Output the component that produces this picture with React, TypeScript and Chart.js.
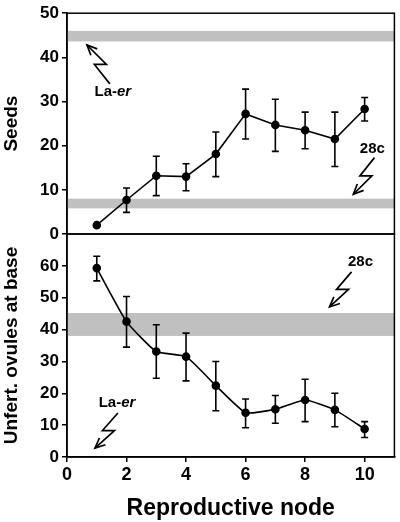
import React, { useEffect, useRef } from "react";
import { Chart, registerables } from "chart.js";
Chart.register(...registerables);

// ---- data ----
const nodes = [1, 2, 3, 4, 5, 6, 7, 8, 9, 10];
const seeds = [2.0, 7.7, 13.2, 13.0, 18.1, 27.2, 24.7, 23.5, 21.5, 28.3];
const seedsLow = [2.0, 4.9, 8.7, 9.8, 13.0, 21.5, 18.7, 19.3, 15.3, 25.6];
const seedsHigh = [2.0, 10.4, 17.6, 15.9, 23.1, 32.8, 30.5, 27.6, 27.6, 30.9];
const ovules = [59.3, 42.5, 33.1, 31.5, 22.4, 13.9, 15.0, 17.9, 14.8, 8.8];
const ovulesLow = [55.3, 34.5, 24.7, 23.9, 14.5, 9.2, 10.6, 11.1, 9.5, 6.1];
const ovulesHigh = [63.0, 50.4, 41.5, 38.9, 30.0, 18.2, 19.3, 24.4, 20.0, 11.1];
const seedsBands = [[43.6, 46.0], [5.8, 8.0]];
const ovulesBands = [[38.0, 45.2]];
const xTicks = [0, 2, 4, 6, 8, 10];
const seedsTicks = [0, 10, 20, 30, 40, 50];
const ovulesTicks = [0, 10, 20, 30, 40, 50, 60];

type Part = { t: string; italic: boolean };
type Note = { parts: Part[]; textX: number; textY: number; tailX: number; tailY: number; tipX: number; tipY: number };
const laer: Part[] = [{ t: "La-", italic: false }, { t: "er", italic: true }];
const c28: Part[] = [{ t: "28c", italic: false }];
const seedsNotes: Note[] = [
  { parts: laer, textX: 1.54, textY: 32.3, tailX: 1.44, tailY: 34.0, tipX: 0.67, tipY: 42.8 },
  { parts: c28, textX: 10.26, textY: 19.3, tailX: 10.33, tailY: 17.3, tipX: 9.62, tipY: 9.0 },
];
const ovulesNotes: Note[] = [
  { parts: c28, textX: 9.86, textY: 61.2, tailX: 9.56, tailY: 58.1, tipX: 8.82, tipY: 47.1 },
  { parts: laer, textX: 1.68, textY: 16.9, tailX: 1.71, tailY: 13.8, tipX: 0.94, tipY: 2.8 },
];

const FONT = "Arial, 'Liberation Sans', Helvetica, sans-serif";

function makePlugin(bands: number[][], low: number[], high: number[], notes: Note[]) {
  return {
    id: "decor",
    beforeDatasetsDraw(chart: any) {
      const { ctx, chartArea, scales } = chart;
      const x = scales.x, y = scales.y;
      ctx.save();
      ctx.fillStyle = "#c0c0c0";
      bands.forEach(([a, b]) => {
        const y1 = y.getPixelForValue(b), y2 = y.getPixelForValue(a);
        ctx.fillRect(chartArea.left, y1, chartArea.right - chartArea.left, y2 - y1);
      });
      ctx.strokeStyle = "#000";
      ctx.lineWidth = 1.6;
      nodes.forEach((n, i) => {
        if (low[i] === high[i]) return;
        const px = x.getPixelForValue(n);
        const yl = y.getPixelForValue(low[i]);
        const yh = y.getPixelForValue(high[i]);
        ctx.beginPath();
        ctx.moveTo(px, yl); ctx.lineTo(px, yh);
        ctx.moveTo(px - 3.5, yl); ctx.lineTo(px + 3.5, yl);
        ctx.moveTo(px - 3.5, yh); ctx.lineTo(px + 3.5, yh);
        ctx.stroke();
      });
      ctx.restore();
    },
    afterDraw(chart: any) {
      const { ctx, chartArea, scales } = chart;
      const x = scales.x, y = scales.y;
      ctx.save();
      ctx.strokeStyle = "#000";
      ctx.lineWidth = 1.5;
      ctx.strokeRect(chartArea.left, chartArea.top, chartArea.right - chartArea.left, chartArea.bottom - chartArea.top);
      notes.forEach((nt) => {
        const tx = x.getPixelForValue(nt.textX), ty = y.getPixelForValue(nt.textY);
        ctx.fillStyle = "#000";
        ctx.textBaseline = "middle";
        ctx.textAlign = "left";
        let total = 0;
        nt.parts.forEach((p) => {
          ctx.font = `${p.italic ? "italic " : ""}bold 15px ${FONT}`;
          total += ctx.measureText(p.t).width;
        });
        let cx = tx - total / 2;
        nt.parts.forEach((p) => {
          ctx.font = `${p.italic ? "italic " : ""}bold 15px ${FONT}`;
          ctx.fillText(p.t, cx, ty);
          cx += ctx.measureText(p.t).width;
        });
        const Tx = x.getPixelForValue(nt.tailX), Ty = y.getPixelForValue(nt.tailY);
        const Px = x.getPixelForValue(nt.tipX), Py = y.getPixelForValue(nt.tipY);
        const mx = (Tx + Px) / 2, my = (Ty + Py) / 2;
        const Ax = mx - 4, Ay = my;
        const Bx = mx + 8, By = my;
        ctx.lineWidth = 1.7;
        ctx.beginPath();
        ctx.moveTo(Tx, Ty); ctx.lineTo(Ax, Ay); ctx.lineTo(Bx, By); ctx.lineTo(Px, Py);
        ctx.stroke();
        const ang = Math.atan2(Py - By, Px - Bx);
        const L = 11, spread = 0.42;
        ctx.beginPath();
        ctx.moveTo(Px - L * Math.cos(ang - spread), Py - L * Math.sin(ang - spread));
        ctx.lineTo(Px, Py);
        ctx.lineTo(Px - L * Math.cos(ang + spread), Py - L * Math.sin(ang + spread));
        ctx.stroke();
      });
      ctx.restore();
    },
  };
}

function yScale(max: number, ticks: number[], title: string) {
  return {
    type: "linear",
    min: 0,
    max,
    afterBuildTicks: (s: any) => { s.ticks = ticks.map((v) => ({ value: v })); },
    afterFit: (s: any) => { s.width = 67; },
    ticks: { color: "#000", font: { family: FONT, size: 17, weight: "bold" }, padding: 3 },
    grid: { drawOnChartArea: false, drawTicks: true, tickLength: 5, color: "#000", lineWidth: 1.5 },
    border: { display: true, color: "#000", width: 1.5 },
    title: { display: true, text: title, color: "#000", font: { family: FONT, size: 19, weight: "bold" }, padding: 0 },
  };
}

function lineDataset(vals: number[], tension: number) {
  return {
    data: nodes.map((n, i) => ({ x: n, y: vals[i] })),
    borderColor: "#000",
    borderWidth: 1.6,
    pointRadius: 3.5,
    pointBackgroundColor: "#000",
    pointBorderColor: "#000",
    tension,
    clip: false,
  };
}

export default function App() {
  const topRef = useRef<HTMLCanvasElement>(null);
  const botRef = useRef<HTMLCanvasElement>(null);

  useEffect(() => {
    const top = new Chart(topRef.current as HTMLCanvasElement, {
      type: "line",
      data: { datasets: [lineDataset(seeds, 0) as any] },
      options: {
        responsive: false,
        animation: false,
        devicePixelRatio: 1,
        layout: { padding: { left: 0, top: 11, right: 5, bottom: 288 } },
        plugins: { legend: { display: false }, tooltip: { enabled: false } },
        scales: {
          x: { type: "linear", min: 0, max: 11, display: false },
          y: yScale(50, seedsTicks, "Seeds") as any,
        },
      },
      plugins: [makePlugin(seedsBands, seedsLow, seedsHigh, seedsNotes)],
    });
    const bot = new Chart(botRef.current as HTMLCanvasElement, {
      type: "line",
      data: { datasets: [lineDataset(ovules, 0.15) as any] },
      options: {
        responsive: false,
        animation: false,
        devicePixelRatio: 1,
        layout: { padding: { left: 0, top: 234, right: 5, bottom: 0 } },
        plugins: { legend: { display: false }, tooltip: { enabled: false } },
        scales: {
          x: {
            type: "linear",
            min: 0,
            max: 11,
            afterBuildTicks: (s: any) => { s.ticks = xTicks.map((v) => ({ value: v })); },
            afterFit: (s: any) => { s.height = 65; },
            ticks: { color: "#000", font: { family: FONT, size: 18, weight: "bold" }, padding: 2, maxRotation: 0 },
            grid: { drawOnChartArea: false, drawTicks: true, tickLength: 5, color: "#000", lineWidth: 1.5 },
            border: { display: true, color: "#000", width: 1.5 },
            title: { display: true, text: "Reproductive node", color: "#000", font: { family: FONT, size: 23, weight: "bold" }, padding: { top: 0, bottom: 0 } },
          } as any,
          y: yScale(70, ovulesTicks, "Unfert. ovules at base") as any,
        },
      },
      plugins: [makePlugin(ovulesBands, ovulesLow, ovulesHigh, ovulesNotes)],
    });
    return () => { top.destroy(); bot.destroy(); };
  }, []);

  return (
    <div style={{ position: "absolute", left: 0, top: 0, width: 400, height: 522, background: "#fff" }}>
      <canvas ref={topRef} width={400} height={522} style={{ position: "absolute", left: 0, top: 0 }} />
      <canvas ref={botRef} width={400} height={522} style={{ position: "absolute", left: 0, top: 0 }} />
    </div>
  );
}
